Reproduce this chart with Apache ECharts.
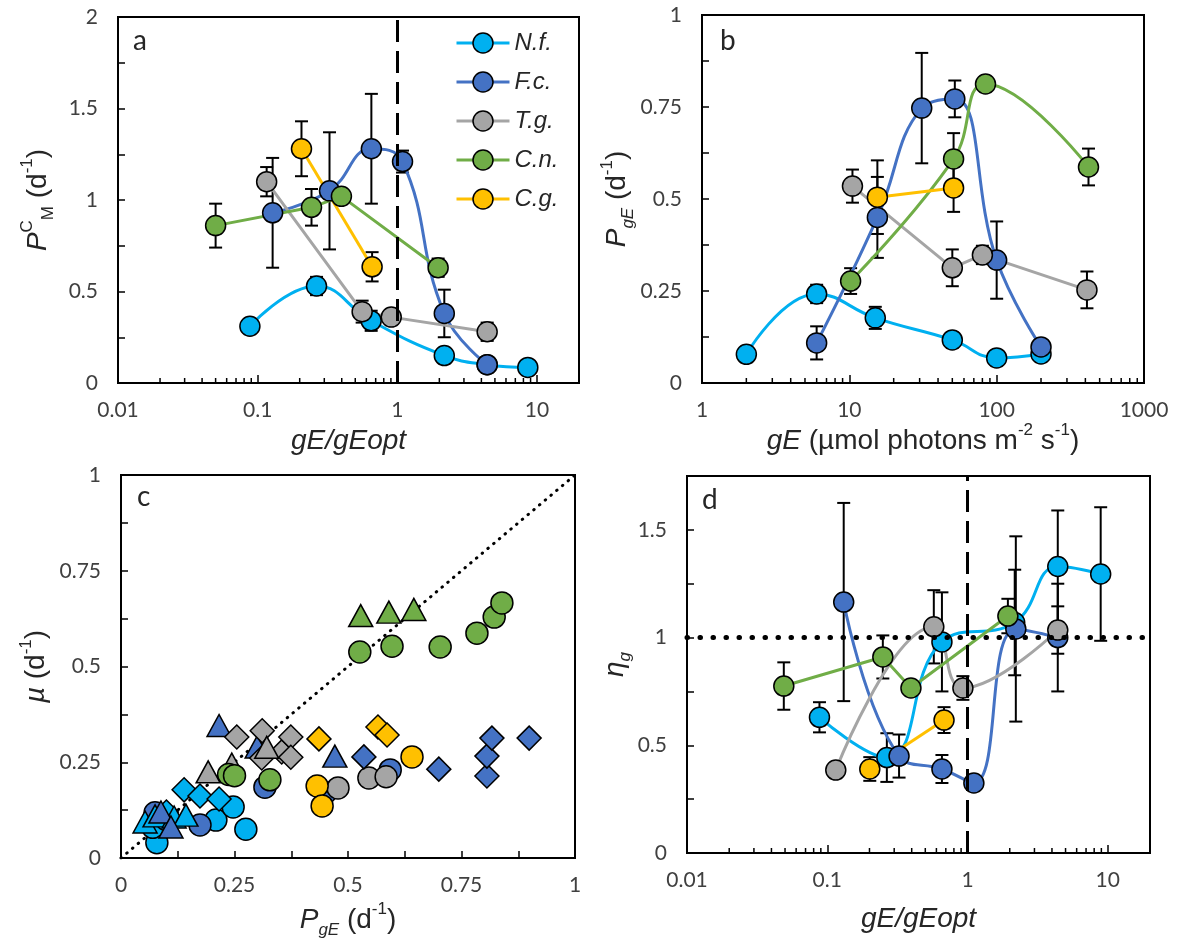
<!DOCTYPE html>
<html>
<head>
<meta charset="utf-8">
<script src="https://cdn.jsdelivr.net/npm/echarts@6/dist/echarts.min.js"></script>
<style>
html, body { margin: 0; padding: 0; background: #fff; }
#chart { width: 1181px; height: 945px; }
</style>
</head>
<body>
<div id="chart"></div>
<script>
const NUM = 'Lato';
const TXT = 'Liberation Sans';
const INK = '#262626';

const species = ['N.f.', 'F.c.', 'T.g.', 'C.n.', 'C.g.'];
const colors = ['#00B0F0', '#4472C4', '#A5A5A5', '#70AD47', '#FFC000'];

// panel a: PCM vs gE/gEopt   [x, y, sd]
const aNf = [[0.088, 0.31, 0], [0.264, 0.53, 0.05], [0.65, 0.34, 0.055], [2.17, 0.15, 0], [4.4, 0.1, 0], [8.6, 0.085, 0]];
const aFc = [[0.128, 0.93, 0.30], [0.327, 1.05, 0.32], [0.652, 1.28, 0.30], [1.09, 1.21, 0.06], [2.17, 0.38, 0.13], [4.4, 0.1, 0]];
const aTg = [[0.116, 1.10, 0.08], [0.56, 0.39, 0.06], [0.905, 0.36, 0], [4.4, 0.28, 0.05]];
const aCn = [[0.05, 0.86, 0.12], [0.243, 0.96, 0.10], [0.398, 1.02, 0], [1.96, 0.63, 0.05]];
const aCg = [[0.206, 1.28, 0.15], [0.66, 0.635, 0.08]];

// panel b: PgE vs gE
const bNf = [[2, 0.078, 0], [6, 0.242, 0.025], [15, 0.177, 0.03], [50, 0.117, 0.02], [100, 0.068, 0], [200, 0.079, 0]];
const bFc = [[6, 0.109, 0.045], [15.5, 0.45, 0.11], [31, 0.747, 0.15], [52, 0.772, 0.05], [100, 0.334, 0.105], [200, 0.098, 0]];
const bTg = [[10.5, 0.535, 0.045], [50, 0.313, 0.05], [80, 0.348, 0.025], [410, 0.253, 0.05]];
const bCn = [[10.2, 0.277, 0.035], [51, 0.609, 0.07], [84, 0.8125, 0], [420, 0.587, 0.05]];
const bCg = [[15.5, 0.505, 0.10], [51, 0.53, 0.065]];

// panel c: mu vs PgE   [x, y]
const cNfCirc = [[0.079, 0.04], [0.07, 0.08], [0.1, 0.1], [0.209, 0.099], [0.247, 0.133], [0.275, 0.075]];
const cFcCirc = [[0.075, 0.118], [0.174, 0.086], [0.317, 0.185], [0.45, 0.17], [0.593, 0.23]];
const cNfDia = [[0.1, 0.12], [0.139, 0.178], [0.174, 0.162], [0.216, 0.154]];
const cNfTri = [[0.053, 0.094], [0.075, 0.11], [0.117, 0.107], [0.143, 0.112]];
const cFcTri = [[0.088, 0.12], [0.11, 0.081], [0.216, 0.346], [0.30, 0.29], [0.471, 0.266]];
const cTgDia = [[0.255, 0.316], [0.311, 0.332], [0.31, 0.261], [0.354, 0.277], [0.374, 0.316], [0.374, 0.263]];
const cTgTri = [[0.192, 0.225], [0.244, 0.245], [0.321, 0.289]];
const cCnCirc = [[0.237, 0.218], [0.25, 0.215], [0.328, 0.204], [0.526, 0.538], [0.597, 0.553], [0.703, 0.551], [0.784, 0.587], [0.822, 0.629], [0.839, 0.666]];
const cTgCirc = [[0.478, 0.183], [0.546, 0.209], [0.584, 0.212]];
const cCgCirc = [[0.432, 0.188], [0.443, 0.136], [0.641, 0.264]];
const cFcDia = [[0.535, 0.264], [0.70, 0.232], [0.806, 0.214], [0.806, 0.266], [0.817, 0.313], [0.899, 0.313]];
const cCgDia = [[0.436, 0.311], [0.566, 0.342], [0.586, 0.321]];
const cCnTri = [[0.528, 0.633], [0.59, 0.642], [0.645, 0.649]];
const oneToOne = [[0, 0], [1, 1]];

// panel d: eta_g vs gE/gEopt
const dNf = [[0.088, 0.63, 0.07], [0.266, 0.443, 0.113], [0.657, 0.98, 0.23], [2.17, 1.07, 0.245], [4.4, 1.33, 0.26], [8.9, 1.295, 0.31]];
const dFc = [[0.131, 1.165, 0.46], [0.325, 0.45, 0.1], [0.657, 0.39, 0.065], [1.11, 0.325, 0], [2.21, 1.04, 0.43], [4.4, 1.0, 0.25]];
const dTg = [[0.115, 0.385, 0], [0.575, 1.05, 0.17], [0.927, 0.766, 0.055], [4.4, 1.035, 0.11]];
const dCn = [[0.049, 0.775, 0.11], [0.249, 0.91, 0.1], [0.395, 0.766, 0], [1.94, 1.10, 0.08]];
const dCg = [[0.201, 0.39, 0.055], [0.68, 0.617, 0.06]];

// minor ticks of the log axes
const minorGE = [0.02, 0.03, 0.04, 0.05, 0.06, 0.07, 0.08, 0.09, 0.2, 0.3, 0.4, 0.5, 0.6, 0.7, 0.8, 0.9, 2, 3, 4, 5, 6, 7, 8, 9];
const minorLight = [2, 3, 4, 5, 6, 7, 8, 9, 20, 30, 40, 50, 60, 70, 80, 90, 200, 300, 400, 500, 600, 700, 800, 900];

const chart = echarts.init(document.getElementById('chart'));

const rich = {
  n: { fontFamily: TXT, fontSize: 28, lineHeight: 38, color: INK },
  i: { fontFamily: TXT, fontSize: 28, lineHeight: 38, fontStyle: 'italic', color: INK },
  sup: { fontFamily: TXT, fontSize: 17, lineHeight: 22, verticalAlign: 'top', color: INK },
  sub: { fontFamily: TXT, fontSize: 17, lineHeight: 20, verticalAlign: 'bottom', color: INK },
  isub: { fontFamily: TXT, fontSize: 17, lineHeight: 20, verticalAlign: 'bottom', fontStyle: 'italic', color: INK }
};
const nameStyle = { fontFamily: TXT, fontSize: 28, lineHeight: 38, color: INK, rich: rich };

function every(step) {
  return v => Math.abs(v / step - Math.round(v / step)) < 1e-6 ? String(+v.toFixed(3)) : '';
}
const line2 = { show: true, onZero: false, lineStyle: { color: '#000', width: 2 } };
const ticks = { show: true, inside: true, length: 7, lineStyle: { color: '#000', width: 1.5 } };
const numLabel = { fontFamily: NUM, fontSize: 21, color: '#404040' };

function logX(idx, min, max, name, gap, showMax) {
  return {
    type: 'log', gridIndex: idx, min: min, max: max, logBase: 10,
    axisLine: line2, axisTick: Object.assign({}, ticks, { length: 8 }), splitLine: { show: false },
    axisLabel: Object.assign({ margin: 17, showMaxLabel: showMax, formatter: v => String(+(+v).toPrecision(6)) }, numLabel),
    name: name, nameLocation: 'middle', nameGap: gap, nameTextStyle: nameStyle
  };
}
function valAxis(idx, max, step, labelStep, name, gap, margin) {
  return {
    type: 'value', gridIndex: idx, min: 0, max: max, interval: step,
    axisLine: line2, axisTick: ticks, splitLine: { show: false },
    axisLabel: Object.assign({ margin: margin, formatter: every(labelStep) }, numLabel),
    name: name, nameLocation: 'middle', nameGap: gap, nameTextStyle: nameStyle
  };
}

function lineSeries(name, data, ci, gi, smooth) {
  return {
    name: name, type: 'line', xAxisIndex: gi, yAxisIndex: gi,
    data: data.map(d => [d[0], d[1]]),
    smooth: smooth ? 0.45 : false,
    symbol: 'circle', symbolSize: 20, showAllSymbol: true,
    lineStyle: { color: colors[ci], width: 3 },
    itemStyle: { color: colors[ci], borderColor: '#000', borderWidth: 1.5 },
    z: 4, silent: true
  };
}
function errSeries(data, gi) {
  return {
    type: 'custom', xAxisIndex: gi, yAxisIndex: gi, z: 3, silent: true,
    data: data.filter(d => d[2] > 0),
    renderItem: function (params, api) {
      const x = api.value(0), y = api.value(1), e = api.value(2);
      const t = api.coord([x, y + e]), b = api.coord([x, y - e]);
      const w = 6.5;
      const st = { stroke: '#000', lineWidth: 2 };
      return {
        type: 'group', children: [
          { type: 'line', shape: { x1: t[0], y1: t[1], x2: b[0], y2: b[1] }, style: st },
          { type: 'line', shape: { x1: t[0] - w, y1: t[1], x2: t[0] + w, y2: t[1] }, style: st },
          { type: 'line', shape: { x1: b[0] - w, y1: b[1], x2: b[0] + w, y2: b[1] }, style: st }
        ]
      };
    }
  };
}
function minorTicks(values, gi) {
  return {
    type: 'custom', xAxisIndex: gi, yAxisIndex: gi, z: 6, silent: true, clip: false,
    data: values.map(v => [v, 0]),
    renderItem: function (params, api) {
      const c = api.coord([api.value(0), 0]);
      return { type: 'line', shape: { x1: c[0], y1: c[1], x2: c[0], y2: c[1] - 5 }, style: { stroke: '#000', lineWidth: 1.5 } };
    }
  };
}
function dots(name, data, ci, symbol, size, z) {
  return {
    name: name, type: 'scatter', xAxisIndex: 2, yAxisIndex: 2, data: data,
    symbol: symbol, symbolSize: size, silent: true, z: z,
    itemStyle: { color: colors[ci], borderColor: '#000', borderWidth: 1.5, opacity: 1 }
  };
}

const dashed = { color: '#000', width: 3, type: [22, 9] };
const circ = 22, tri = [24, 22], dia = 24;

const series = [];
// panel a
const panelA = [aNf, aFc, aTg, aCn, aCg];
const smoothA = [true, true, false, false, false];
panelA.forEach((d, i) => { series.push(errSeries(d, 0)); });
panelA.forEach((d, i) => { series.push(lineSeries(species[i], d, i, 0, smoothA[i])); });
series[5].markLine = { silent: true, symbol: 'none', label: { show: false }, lineStyle: dashed, data: [{ xAxis: 1 }] };
series.push(minorTicks(minorGE, 0));
// panel b
const panelB = [bNf, bFc, bTg, bCn, bCg];
const smoothB = [true, true, false, true, false];
panelB.forEach((d, i) => { series.push(errSeries(d, 1)); });
panelB.forEach((d, i) => { series.push(lineSeries('b ' + species[i], d, i, 1, smoothB[i])); });
series.push(minorTicks(minorLight, 1));
// panel c
series.push({
  name: '1:1', type: 'line', xAxisIndex: 2, yAxisIndex: 2, data: oneToOne, symbol: 'none', silent: true, z: 2,
  lineStyle: { color: '#000', width: 3, type: [0.5, 7], cap: 'round' }
});
series.push(dots('c1', cNfCirc, 0, 'circle', circ, 3));
series.push(dots('c2', cFcCirc, 1, 'circle', circ, 3));
series.push(dots('c3', cNfDia, 0, 'diamond', dia, 3));
series.push(dots('c4', cNfTri, 0, 'triangle', tri, 3));
series.push(dots('c5', cFcTri, 1, 'triangle', tri, 3));
series.push(dots('c6', cTgDia, 2, 'diamond', dia, 3));
series.push(dots('c7', cTgTri, 2, 'triangle', tri, 3));
series.push(dots('c8', cCnCirc, 3, 'circle', circ, 3));
series.push(dots('c9', cTgCirc, 2, 'circle', circ, 3));
series.push(dots('c10', cCgCirc, 4, 'circle', circ, 3));
series.push(dots('c11', cFcDia, 1, 'diamond', dia, 3));
series.push(dots('c12', cCgDia, 4, 'diamond', dia, 3));
series.push(dots('c13', cCnTri, 3, 'triangle', tri, 3));
// panel d
const panelD = [dNf, dFc, dTg, dCn, dCg];
const smoothD = [true, true, true, false, false];
panelD.forEach((d, i) => { series.push(errSeries(d, 3)); });
const firstD = series.length;
panelD.forEach((d, i) => { series.push(lineSeries('d ' + species[i], d, i, 3, smoothD[i])); });
series[firstD].markLine = {
  silent: true, symbol: 'none', label: { show: false },
  data: [
    { yAxis: 1, lineStyle: { color: '#000', width: 5, type: [0.5, 12.5], cap: 'round' } },
    { xAxis: 1, lineStyle: dashed }
  ]
};
series.push(minorTicks(minorGE, 3));

const frame = { show: true, borderColor: '#000', borderWidth: 2, backgroundColor: 'transparent' };

const option = {
  animation: false,
  backgroundColor: '#fff',
  grid: [
    Object.assign({ left: 118, top: 17, width: 461, height: 366, outerBoundsMode: 'none' }, frame),
    Object.assign({ left: 702, top: 15, width: 442, height: 368, outerBoundsMode: 'none' }, frame),
    Object.assign({ left: 121, top: 475, width: 454, height: 383, outerBoundsMode: 'none' }, frame),
    Object.assign({ left: 687, top: 476, width: 463, height: 377, outerBoundsMode: 'none' }, frame)
  ],
  xAxis: [
    logX(0, 0.01, 20, '{i|gE/gEopt}', 38, false),
    logX(1, 1, 1000, '{i|gE}{n| (µmol photons m}{sup|-2}{n| s}{sup|-1}{n|)}', 38, true),
    valAxis(2, 1, 0.125, 0.25, '{i|P}{isub|gE}{n| (d}{sup|-1}{n|)}', 43, 17),
    logX(3, 0.01, 20, '{i|gE/gEopt}', 47, false)
  ],
  yAxis: [
    valAxis(0, 2, 0.25, 0.5, '{i|P}{sup|C}{sub|M}{n| (d}{sup|-1}{n|)}', 61, 20),
    valAxis(1, 1, 0.125, 0.25, '{i|P}{isub|gE}{n| (d}{sup|-1}{n|)}', 53, 20),
    valAxis(2, 1, 0.125, 0.25, '{i|µ}{n| (d}{sup|-1}{n|)}', 62, 20),
    valAxis(3, 1.75, 0.25, 0.5, '{i|η}{isub|g}', 41, 20)
  ],
  legend: {
    left: 450, top: 26, orient: 'vertical', selectedMode: false,
    itemWidth: 53, itemHeight: 25, itemGap: 15,
    data: species,
    lineStyle: { width: 3 },
    itemStyle: { borderColor: '#000', borderWidth: 1.5 },
    textStyle: { fontFamily: TXT, fontSize: 24, fontStyle: 'italic', color: INK }
  },
  graphic: [
    { type: 'text', x: 133, y: 41, style: { text: 'a', font: '28px Lato', fill: INK, verticalAlign: 'middle' } },
    { type: 'text', x: 720, y: 41, style: { text: 'b', font: '28px Lato', fill: INK, verticalAlign: 'middle' } },
    { type: 'text', x: 137, y: 497, style: { text: 'c', font: '28px Lato', fill: INK, verticalAlign: 'middle' } },
    { type: 'text', x: 702, y: 500, style: { text: 'd', font: '28px Lato', fill: INK, verticalAlign: 'middle' } }
  ],
  series: series
};

chart.setOption(option);
</script>
</body>
</html>
